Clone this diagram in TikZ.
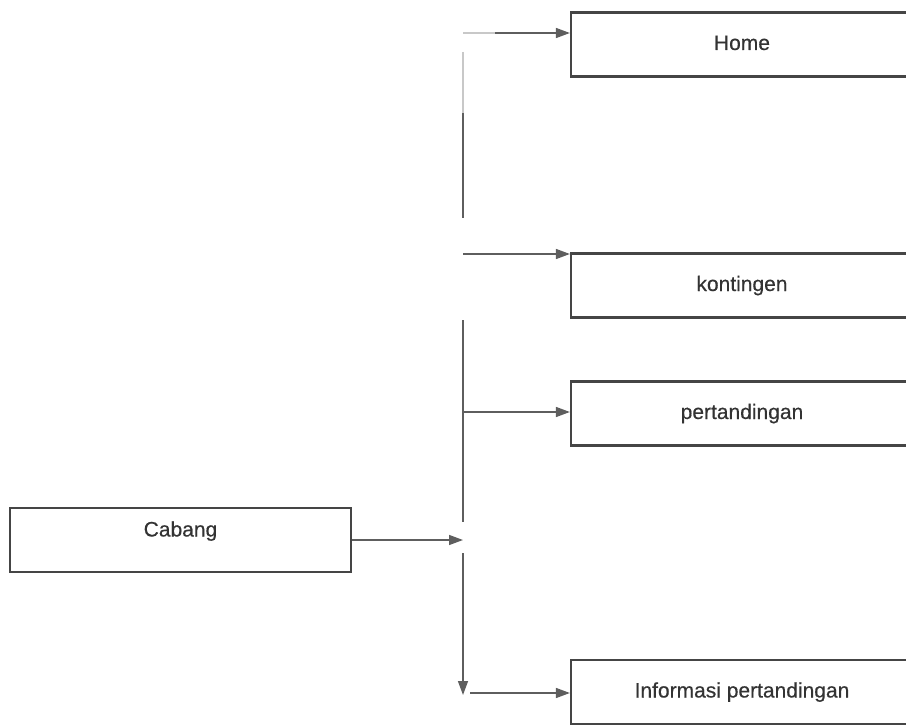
\documentclass[tikz,border=0pt]{standalone}
\usepackage{fontspec}
\setmainfont{Liberation Sans}
\newfontfamily\labelfont[FakeBold=0.4]{Liberation Sans}
\usetikzlibrary{arrows.meta}
\definecolor{boxgray}{HTML}{454545}
\definecolor{linkgray}{HTML}{5E5E5E}
\definecolor{fadegray}{HTML}{C8C8C8}
\definecolor{txtgray}{HTML}{333333}
\begin{document}
\begin{tikzpicture}[x=1pt,y=-1pt,
  box/.style={draw=boxgray, line width=2.2pt, inner sep=0pt,
    minimum height=64pt, text height=15pt, text depth=4pt,
    font=\labelfont\fontsize{21}{24}\selectfont, text=txtgray},
  menubox/.style={box, minimum width=342pt},
  link/.style={draw=linkgray, line width=1.4pt},
  faint/.style={draw=fadegray, line width=1.2pt},
  tip/.style={-{Triangle[length=14pt,width=10pt]}}]
\useasboundingbox (0,0) rectangle (906,725);
\clip (0,0) rectangle (906,725);

% menu pages on the right
\node[menubox] (home) at (742,44.5) {Home};
\node[menubox] (kont) at (742,285.5) {kontingen};
\node[menubox] (pert) at (742,413.5) {pertandingan};
\node[menubox] (info) at (742,692) {Informasi pertandingan};

% starting page
\node[box, minimum width=341pt, text depth=22pt] (cab) at (180.5,540) {Cabang};

% vertical distribution line
\coordinate (t0) at (463,52);
\coordinate (t1) at (463,113);
\coordinate (t2) at (463,218);
\coordinate (t3) at (463,320);
\coordinate (t4) at (463,522);
\coordinate (t5) at (463,553);
\coordinate (t6) at (463,695);

\draw[faint] (t0) -- (t1);
\draw[link] (t1) -- (t2);
\draw[link] (t3) -- (t4);
\draw[link,tip] (t5) -- (t6);

% branches to the pages
\coordinate (jh) at (463,33);
\coordinate (jk) at (463,254);
\coordinate (jp) at (463,412);
\coordinate (ji) at (470,693);
\coordinate (jc) at (463,540);

\draw[faint] (jh) -- (495,33);
\draw[link,tip] (495,33) -- (jh -| home.west);
\draw[link,tip] (jk) -- (jk -| kont.west);
\draw[link,tip] (jp) -- (jp -| pert.west);
\draw[link,tip] (ji) -- (ji -| info.west);
\draw[link,tip] (cab.east) -- (jc);
\end{tikzpicture}
\end{document}
